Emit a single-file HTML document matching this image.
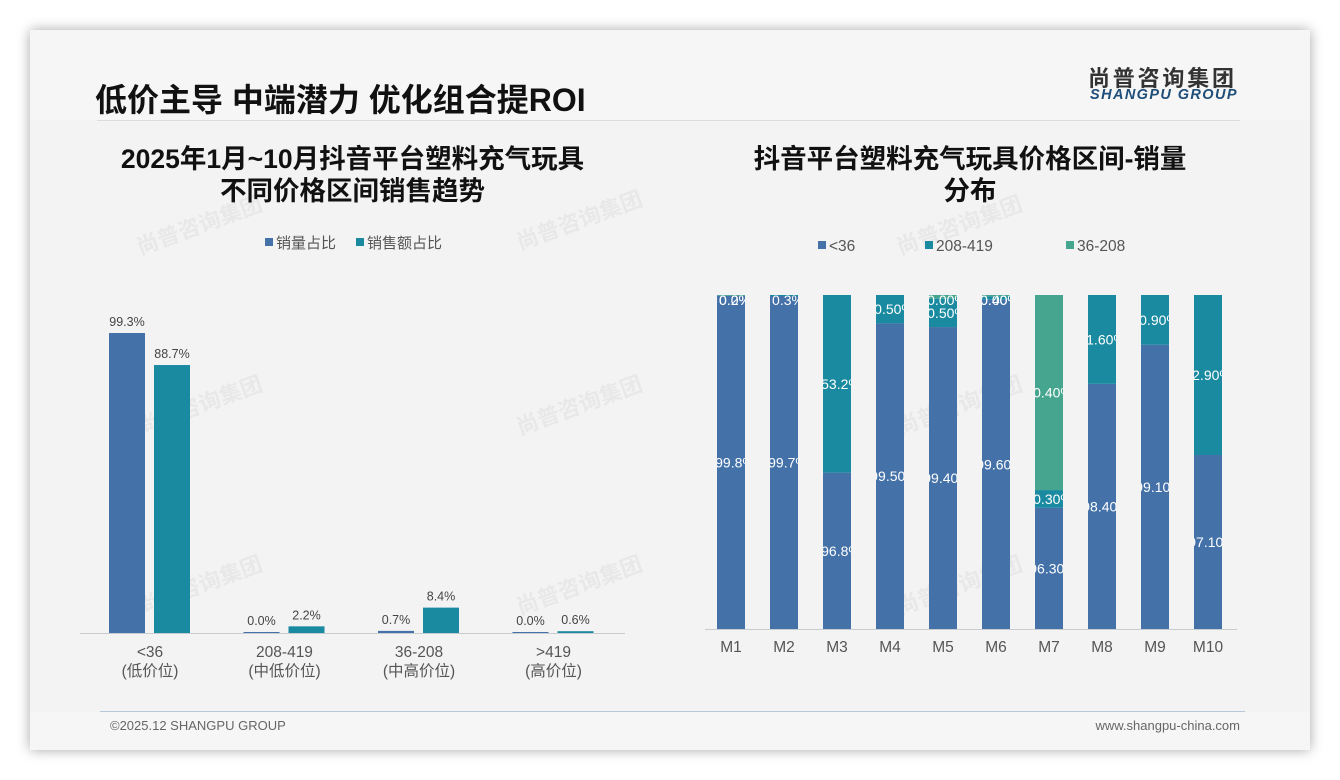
<!DOCTYPE html>
<html><head><meta charset="utf-8"><style>
body{margin:0;width:1340px;height:780px;background:#fff;font-family:"Liberation Sans","Noto Sans CJK SC",sans-serif;overflow:hidden;position:relative}
.card{position:absolute;left:30px;top:30px;width:1280px;height:720px;background:#f3f3f3;box-shadow:0 0 12px rgba(0,0,0,.35)}
.abs{position:absolute}
</style></head><body>
<div class="card"></div>
<div class="abs" style="left:30px;top:30px;width:1280px;height:90px;background:#f6f6f6"></div>
<div class="abs" style="left:30px;top:712px;width:1280px;height:38px;background:#f6f6f6"></div>
<div class="abs" style="left:95px;top:75px;font-size:32px;font-weight:bold;color:#111;letter-spacing:0px">低价主导 中端潜力 优化组合提ROI</div>
<div class="abs" style="left:97px;top:120px;width:1143px;height:1px;background:#dcdcdc"></div>
<div class="abs" style="left:1088px;top:61px;font-size:22px;font-weight:bold;color:#333;letter-spacing:2.8px">尚普咨询集团</div>
<div class="abs" style="left:1090px;top:87px;font-size:14.5px;font-weight:bold;font-style:italic;color:#1f4e79;letter-spacing:1.4px">SHANGPU GROUP</div>
<div class="abs" style="left:60px;top:143px;width:585px;text-align:center;font-size:26.5px;font-weight:bold;color:#111;line-height:32px">2025年1月~10月抖音平台塑料充气玩具<br>不同价格区间销售趋势</div>
<div class="abs" style="left:690px;top:143px;width:560px;text-align:center;font-size:26.5px;font-weight:bold;color:#111;line-height:32px">抖音平台塑料充气玩具价格区间-销量<br>分布</div>
<div class="abs" style="left:100px;top:711px;width:1145px;height:1px;background:#b8c8d8"></div>
<div class="abs" style="left:110px;top:718px;font-size:13px;color:#666">©2025.12 SHANGPU GROUP</div>
<div class="abs" style="left:1040px;top:718px;width:200px;text-align:right;font-size:13px;color:#666">www.shangpu-china.com</div>
<svg class="abs" style="left:0;top:0" width="1340" height="780" id="svg">
<g fill="#000" opacity="0.045" font-size="22" font-weight="bold">
<text x="140" y="255" transform="rotate(-20 140 255)">尚普咨询集团</text>
<text x="520" y="250" transform="rotate(-20 520 250)">尚普咨询集团</text>
<text x="900" y="255" transform="rotate(-20 900 255)">尚普咨询集团</text>
<text x="140" y="435" transform="rotate(-20 140 435)">尚普咨询集团</text>
<text x="520" y="435" transform="rotate(-20 520 435)">尚普咨询集团</text>
<text x="900" y="435" transform="rotate(-20 900 435)">尚普咨询集团</text>
<text x="140" y="615" transform="rotate(-20 140 615)">尚普咨询集团</text>
<text x="520" y="615" transform="rotate(-20 520 615)">尚普咨询集团</text>
<text x="900" y="615" transform="rotate(-20 900 615)">尚普咨询集团</text>
</g>
</svg>
<script>
const leftCats=["<36","208-419","36-208",">419"];
const leftSubs=["(低价位)","(中低价位)","(中高价位)","(高价位)"];
const volShare=[99.3,0.0,0.7,0.0];
const amtShare=[88.7,2.2,8.4,0.6];
const months=["M1","M2","M3","M4","M5","M6","M7","M8","M9","M10"];
const sLow=[99.8,99.7,46.8,91.5,90.4,98.6,36.3,73.4,85.1,52.1];
const sMid=[0.0,0.3,53.2,8.5,8.5,1.0,5.3,26.6,14.9,47.9];
const sHigh=[0.2,0.0,0.0,0.0,1.1,0.4,58.4,0.0,0.0,0.0];
const sLowLbl=["99.8%","99.7%","96.8%","99.50%","99.40%","99.60%","96.30%","98.40%","99.10%","97.10%"];
const sMidLbl=["0.0%","0.3%","53.2%","0.50%","0.50%","0.00%","0.30%","1.60%","0.90%","2.90%"];
const sHighLbl=["0.2%","","","","0.00%","0.40%","0.40%","","",""];
const C1="#4472a8",C2="#1a8aa0",C3="#45a58e";
const svg=document.getElementById('svg');const NS="http://www.w3.org/2000/svg";
function mk(t,a,p){const e=document.createElementNS(NS,t);for(const k in a)e.setAttribute(k,a[k]);(p||svg).appendChild(e);return e;}
const lBase=633,lScale=300/99.3;const lx=i=>150+i*134.5;
let ax=mk('line',{x1:80,x2:625,y1:lBase+0.5,y2:lBase+0.5,stroke:'#c8ccd0'});


let lg=mk('rect',{x:265,y:238,width:8,height:8,fill:C1});


let lt=mk('text',{x:276,y:248,'font-size':15,fill:'#555'});lt.textContent='销量占比';


lg=mk('rect',{x:356,y:238,width:8,height:8,fill:C2});


lt=mk('text',{x:367,y:248,'font-size':15,fill:'#555'});lt.textContent='销售额占比';


leftCats.forEach((c,i)=>{
  const cx=lx(i);
  [[volShare,C1,-41,'volume'],[amtShare,C2,4,'amount']].forEach(([arr,col,off,nm])=>{
    const v=arr[i];const h=Math.max(v*lScale,1);
    const r=mk('rect',{x:cx+off,y:lBase-h,width:36,height:h,fill:col});
    
    
    const t=mk('text',{x:cx+off+18,y:lBase-h-7,'text-anchor':'middle','font-size':12.5,fill:'#444'});t.textContent=v.toFixed(1)+'%';
    
    
  });
  let t=mk('text',{x:cx,y:657,'text-anchor':'middle','font-size':15.5,fill:'#555'});t.textContent=c;
  
  
  t=mk('text',{x:cx,y:676,'text-anchor':'middle','font-size':15.5,fill:'#555'});t.textContent=leftSubs[i];
  
  
});
const rBase=629,rTop=295,rScale=(rBase-rTop)/100;const rx=i=>731+i*53;const bw=28;
ax=mk('line',{x1:705,x2:1237,y1:rBase+0.5,y2:rBase+0.5,stroke:'#c8ccd0'});


[["<36",C1,818],["208-419",C2,925],["36-208",C3,1066]].forEach(([n,c,x],k)=>{
  const r=mk('rect',{x:x,y:241,width:8,height:8,fill:c});
  
  
  const t=mk('text',{x:x+11,y:251,'font-size':15.5,fill:'#555'});t.textContent=n;
  
  
});
const defs=mk('defs',{});
months.forEach((m,i)=>{
  const x0=rx(i)-bw/2;
  const cp=mk('clipPath',{id:'cp'+i},defs);mk('rect',{x:x0,y:rTop,width:bw,height:rBase-rTop},cp);
  let y=rBase;
  [[sLow,C1,sLowLbl,'low'],[sMid,C2,sMidLbl,'mid'],[sHigh,C3,sHighLbl,'high']].forEach(([arr,col,lb,nm])=>{
    const h=arr[i]*rScale;y-=h;
    if(h>0){const r=mk('rect',{x:x0,y:y,width:bw,height:h,fill:col});
      
      }
    if(lb[i]){const t=mk('text',{x:rx(i)+4,y:Math.max(y+h/2+5,rTop+10),'text-anchor':'middle','font-size':14,fill:'#fff','clip-path':'url(#cp'+i+')'});t.textContent=lb[i];
      
      }
  });
  const t=mk('text',{x:rx(i),y:652,'text-anchor':'middle','font-size':15.5,fill:'#555'});t.textContent=m;
  
  
});
</script>
</body></html>
